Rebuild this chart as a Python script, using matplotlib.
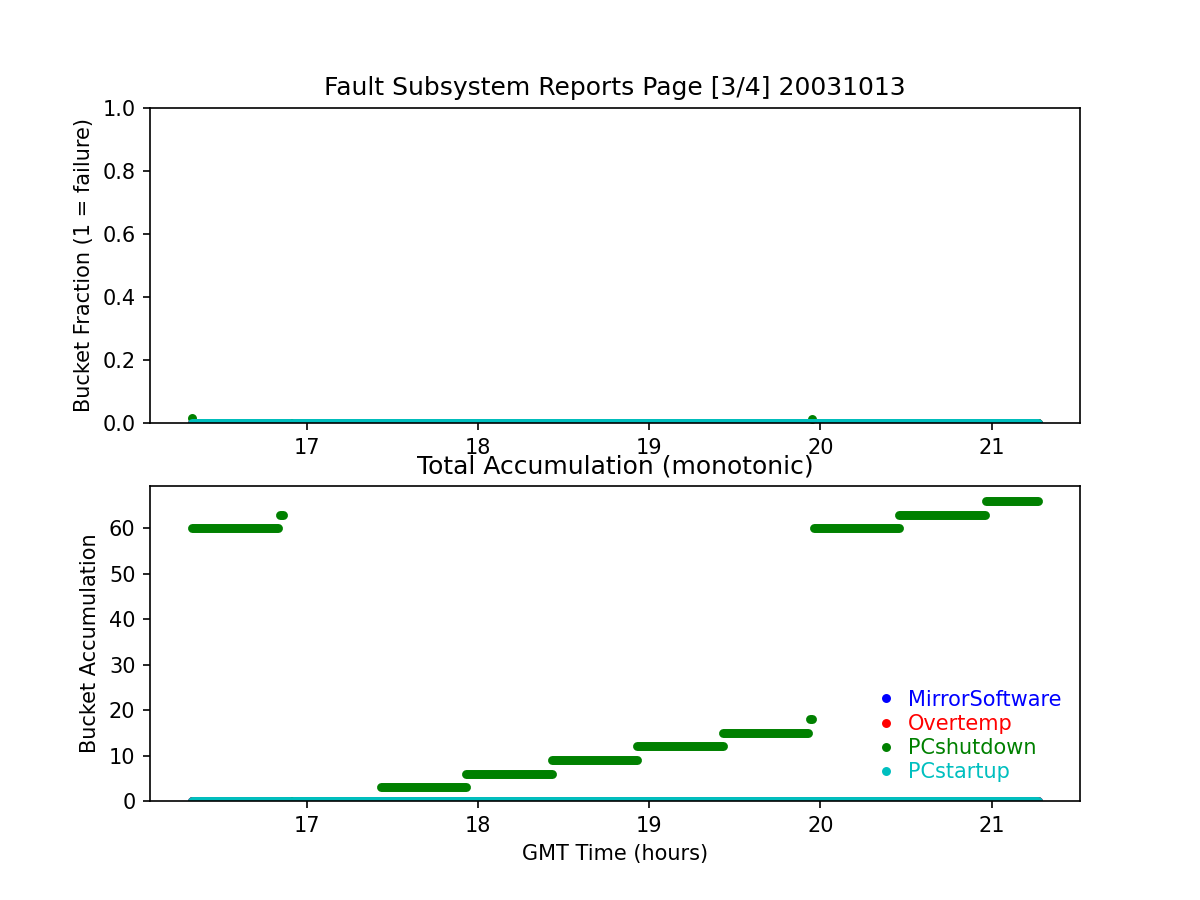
import matplotlib
matplotlib.use("Agg")
import matplotlib.pyplot as plt
from matplotlib.lines import Line2D

# Series names and colours (classic single-letter colours)
names = ["MirrorSoftware", "Overtemp", "PCshutdown", "PCstartup"]
colors = ["b", "r", "g", "c"]

# Each series is a list of (start hour, end hour, value) runs of dense samples
frac_mirror = [(16.33, 21.27, 0.0)]
frac_overtemp = [(16.33, 21.27, 0.0)]
frac_shutdown = [(16.33, 16.33, 0.015), (16.34, 19.94, 0.0),
                 (19.95, 19.95, 0.012), (19.96, 21.27, 0.0)]
frac_startup = [(16.33, 16.90, 0.0), (16.92, 21.27, 0.0)]

acc_mirror = [(16.33, 21.27, 0)]
acc_overtemp = [(16.33, 21.27, 0)]
acc_shutdown = [(16.33, 16.83, 60), (16.84, 16.86, 63), (16.87, 17.41, 0),
                (17.43, 17.93, 3), (17.93, 18.43, 6), (18.43, 18.93, 9),
                (18.93, 19.43, 12), (19.43, 19.93, 15), (19.94, 19.95, 18),
                (19.96, 20.46, 60), (20.46, 20.96, 63), (20.97, 21.27, 66)]
acc_startup = [(16.33, 16.90, 0), (16.92, 21.27, 0)]

fraction = [frac_mirror, frac_overtemp, frac_shutdown, frac_startup]
accumulation = [acc_mirror, acc_overtemp, acc_shutdown, acc_startup]

dot = 4.3  # sample dot size in points


def draw_runs(ax, runs, color):
    # a run of touching dots looks like a thick line with round ends
    for t0, t1, v in runs:
        if t1 > t0:
            ax.plot([t0, t1], [v, v], color=color, lw=dot,
                    solid_capstyle="round")
        else:
            ax.plot([t0], [v], color=color, marker="o", markersize=dot,
                    markeredgewidth=0, linestyle="none")


fig, (ax1, ax2) = plt.subplots(2, 1, figsize=(8, 6), dpi=150)

# Top panel: fraction per bucket
for runs, c in zip(fraction, colors):
    draw_runs(ax1, runs, c)
ax1.set_ylim(0, 1)
ax1.set_ylabel("Bucket Fraction (1 = failure)")
ax1.set_title("Fault Subsystem Reports Page [3/4] 20031013", fontsize=12)

# Bottom panel: running total
for runs, c in zip(accumulation, colors):
    draw_runs(ax2, runs, c)
ax2.set_ylim(bottom=0)
ax2.set_ylabel("Bucket Accumulation")
ax2.set_xlabel("GMT Time (hours)")
ax2.set_title("Total Accumulation (monotonic)", fontsize=12)

handles = [Line2D([], [], color=c, marker="o", linestyle="none",
                  markersize=dot, markeredgewidth=0) for c in colors]
leg = ax2.legend(handles, names, loc="lower right", frameon=False,
                 handlelength=0.5, handletextpad=0.8, labelspacing=0.2,
                 numpoints=1)
for txt, c in zip(leg.get_texts(), colors):
    txt.set_color(c)

fig.savefig("out.png", dpi=150)
